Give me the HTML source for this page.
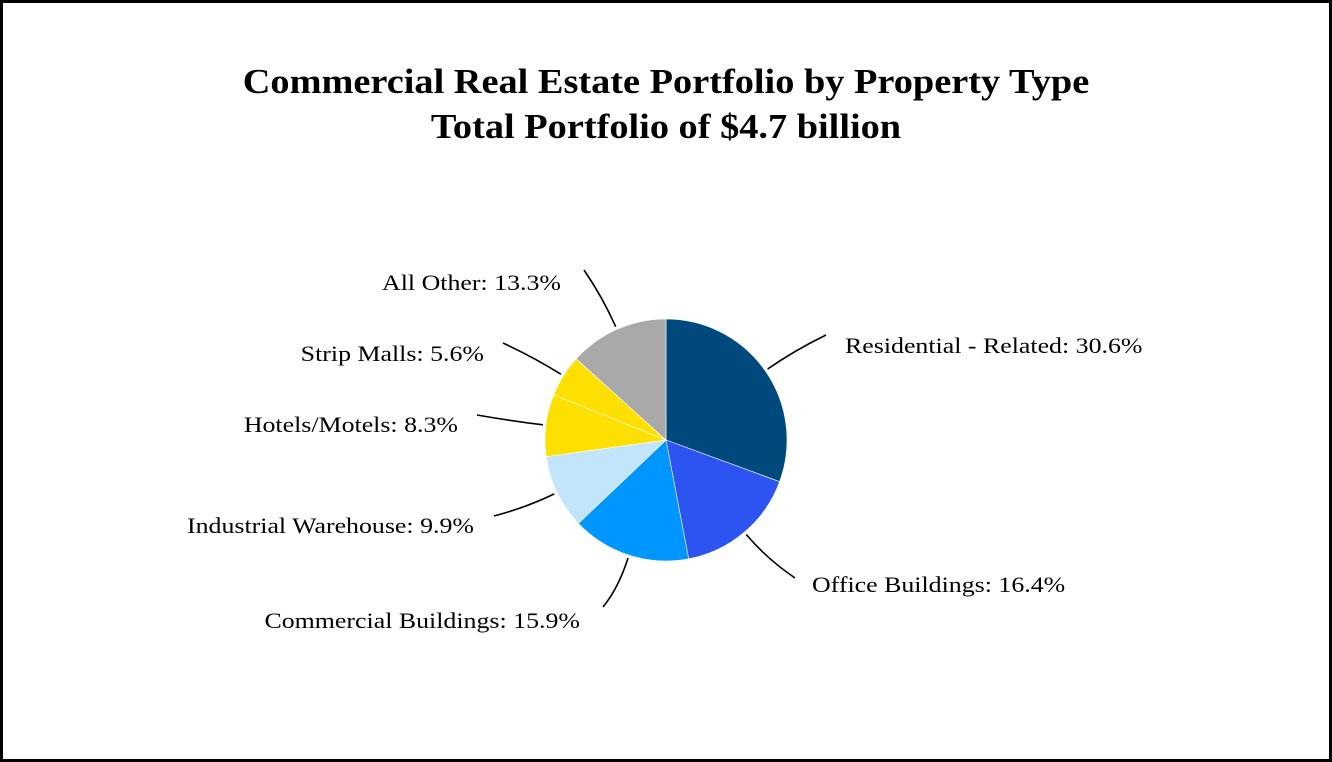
<!DOCTYPE html>
<html><head><meta charset="utf-8"><style>
html,body{margin:0;padding:0;background:#fff}
#frame{position:absolute;left:0;top:0;width:1326px;height:756px;border:3px solid #000;background:#fff}
svg{position:absolute;left:0;top:0}
text{font-family:"Liberation Serif",serif}
</style></head><body>
<div id="frame"></div>
<svg id="chart" width="1332" height="762">
<text class="stretch-title" x="666" y="93" text-anchor="middle" font-size="35" font-weight="bold">Commercial Real Estate Portfolio by Property Type</text>
<text class="stretch-title" x="666" y="138" text-anchor="middle" font-size="35" font-weight="bold">Total Portfolio of $4.7 billion</text>
<g id="slices"></g><g id="leaders"></g><g id="labels"></g>
</svg>
<script>
const categories=["Residential - Related","Office Buildings","Commercial Buildings","Industrial Warehouse","Hotels/Motels","Strip Malls","All Other"];
const values=[30.6,16.4,15.9,9.9,8.3,5.6,13.3];
const colors=["#00497c","#2d53f0","#0096ff","#c2e5fc","#fde000","#fde000","#a9a9a9"];
const labelPos=[[845,353,"start",826,335],[812,592,"start",795,578],[580,628,"end",603,607],[474,533,"end",494,516],[458,432,"end",477,415],[484,361,"end",503,343],[561,290,"end",584,270]];
const cx=666,cy=440,r=121;
const ns="http://www.w3.org/2000/svg";
const total=values.reduce((a,b)=>a+b,0);
function pt(a,rr){return [cx+rr*Math.sin(a),cy-rr*Math.cos(a)];}
let acc=0;
values.forEach((v,i)=>{
  const a0=acc/total*2*Math.PI, a1=(acc+v)/total*2*Math.PI; acc+=v;
  const p0=pt(a0,r),p1=pt(a1,r);
  const large=(a1-a0)>Math.PI?1:0;
  const p=document.createElementNS(ns,"path");
  p.setAttribute("d",`M${cx},${cy}L${p0[0]},${p0[1]}A${r},${r} 0 ${large} 1 ${p1[0]},${p1[1]}Z`);
  p.setAttribute("fill",colors[i]);p.setAttribute("stroke","#fff");p.setAttribute("stroke-width","0.6");
  
  
  document.getElementById("slices").appendChild(p);
  const am=(a0+a1)/2, s=pt(am,r+3), L=labelPos[i];
  const c=pt(am,r+35);
  const ln=document.createElementNS(ns,"path");
  ln.setAttribute("d",`M${s[0]},${s[1]}Q${c[0]},${c[1]} ${L[3]},${L[4]}`);
  ln.setAttribute("fill","none");ln.setAttribute("stroke","#000");ln.setAttribute("stroke-width","1.6");
  
  
  document.getElementById("leaders").appendChild(ln);
  const t=document.createElementNS(ns,"text");
  t.setAttribute("x",L[0]);t.setAttribute("y",L[1]);t.setAttribute("text-anchor",L[2]);t.setAttribute("font-size","22.5");
  t.textContent=categories[i]+": "+v.toFixed(1)+"%";
  
  
  document.getElementById("labels").appendChild(t);
  const w=t.getComputedTextLength();
  t.setAttribute("textLength",w*1.15);t.setAttribute("lengthAdjust","spacingAndGlyphs");
});
document.querySelectorAll(".stretch-title").forEach(t=>{
  const w=t.getComputedTextLength();
  t.setAttribute("textLength",w*1.095);t.setAttribute("lengthAdjust","spacingAndGlyphs");
});
</script>
</body></html>
